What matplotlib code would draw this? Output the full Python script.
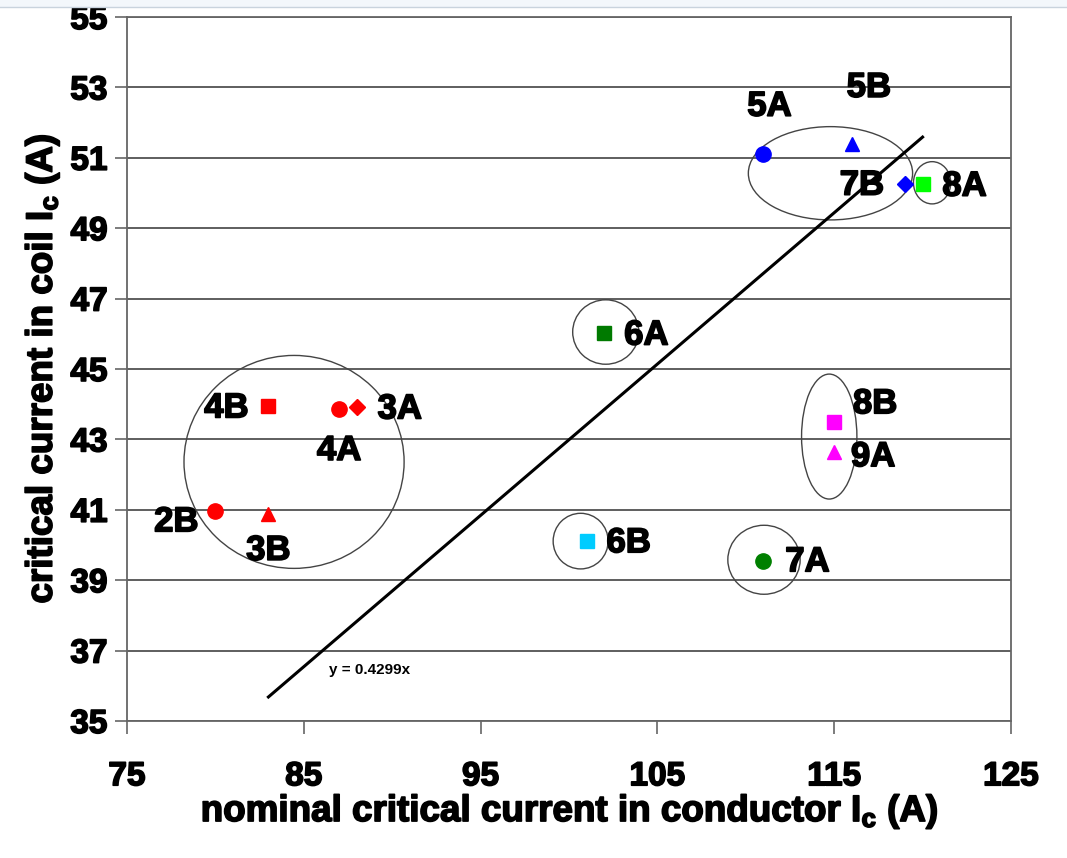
import matplotlib
matplotlib.use("Agg")
import matplotlib.pyplot as plt
import matplotlib.patheffects as pe
from matplotlib.patches import Ellipse, Rectangle
from matplotlib.lines import Line2D

plt.rcParams['font.family'] = ['Liberation Sans', 'DejaVu Sans']
plt.rcParams['font.weight'] = 'bold'
plt.rcParams['mathtext.fontset'] = 'custom'
plt.rcParams['mathtext.rm'] = 'Liberation Sans:bold'
plt.rcParams['mathtext.default'] = 'rm'

# samples: nominal Ic of conductor vs Ic measured in coil
names = ['2B', '3B', '4B', '4A', '3A', '5A', '5B', '7B', '8A', '6A', '8B', '9A', '6B', '7A']
nominal_ic = [80, 83, 83, 87, 88, 111, 116, 119, 120, 102, 115, 115, 101, 111]
coil_ic = [40.97, 40.87, 43.95, 43.85, 43.92, 51.1, 51.38, 50.25, 50.25, 46.02, 43.5, 42.65, 40.12, 39.55]
markers = ['o', '^', 's', 'o', 'D', 'o', '^', 'D', 's', 's', 's', '^', 's', 'o']
colors = ['#ff0000', '#ff0000', '#ff0000', '#ff0000', '#ff0000', '#0000ff', '#0000ff', '#0000ff',
          '#00ff00', '#007a00', '#ff00ff', '#ff00ff', '#00ccff', '#008000']

# linear fit through origin
slope = 0.4299
fit_x = [83, 120]

# groupings drawn as ellipses: (center x, center y, width, height)
groups_cx = [84.45, 114.79, 120.54, 102.08, 114.72, 100.66, 111.03]
groups_cy = [42.36, 50.56, 50.29, 46.05, 43.08, 40.11, 39.58]
groups_w = [12.45, 9.29, 2.11, 3.74, 3.13, 3.11, 4.09]
groups_h = [6.05, 2.65, 1.2, 1.83, 3.55, 1.58, 1.96]

# label offsets (pixels) from each marker
label_off = {'2B': (-39, -11), '3B': (0, -36), '4B': (-42, -2), '4A': (0, -41), '3A': (43, -2),
             '5A': (6, 48), '5B': (17, 57), '7B': (-43, -1), '8A': (42, -2), '6A': (42, -2),
             '8B': (41, 18), '9A': (39, -5), '6B': (42, -2), '7A': (44, -1)}
msize = {'o': 11, 's': 10.5, '^': 10, 'D': 8}

heavy = [pe.withStroke(linewidth=1.2, foreground='black')]

fig = plt.figure(figsize=(10.67, 8.58), dpi=100)
ax = fig.add_axes([0.119, 0.1597, 0.8285, 0.8205])

ax.set_xlim(75, 125)
ax.set_ylim(35, 55)
ax.set_xticks(range(75, 126, 10))
ax.set_yticks(range(35, 56, 2))
ax.yaxis.grid(True, color='#333333', linewidth=1.1)
ax.set_axisbelow(True)
for s in ax.spines.values():
    s.set_color('#666666')
    s.set_linewidth(1.3)
ax.tick_params(axis='both', direction='out', length=9, width=1.2, color='#666666', labelsize=24)
ax.tick_params(axis='x', pad=20)
ax.tick_params(axis='y', pad=5)
for lab in ax.get_xticklabels() + ax.get_yticklabels():
    lab.set_path_effects(heavy)

for cx, cy, w, h in zip(groups_cx, groups_cy, groups_w, groups_h):
    ax.add_patch(Ellipse((cx, cy), w, h, fill=False, edgecolor='#444444', linewidth=1.0, zorder=2))

ax.plot(fit_x, [slope * v for v in fit_x], color='black', linewidth=2.2, zorder=3)
ax.text(86.4, 36.45, 'y = 0.4299x', fontsize=11, fontweight='bold', va='center', ha='left')

for n, x, y, m, c in zip(names, nominal_ic, coil_ic, markers, colors):
    ax.plot(x, y, marker=m, color=c, markersize=msize[m], linestyle='none', zorder=4)
    dx, dy = label_off[n]
    ax.annotate(n, (x, y), xytext=(dx, dy), textcoords='offset pixels',
                ha='center', va='center', fontsize=25, fontweight='bold', zorder=5,
                path_effects=heavy)

xl = ax.set_xlabel('nominal critical current in conductor I$_\\mathrm{c}$ (A)', fontsize=26.5,
                   fontweight='bold', labelpad=0)
yl = ax.set_ylabel('critical current in coil I$_\\mathrm{c}$ (A)', fontsize=26.5,
                   fontweight='bold', labelpad=6)
xl.set_path_effects(heavy)
yl.set_path_effects(heavy)

# strip of the window at the very top of the screenshot
fig.add_artist(Rectangle((0, 1 - 7 / 858), 1, 7 / 858, transform=fig.transFigure,
                         facecolor='#f3f7fb', edgecolor='none', zorder=10))
fig.add_artist(Line2D([0, 1], [1 - 7 / 858, 1 - 7 / 858], transform=fig.transFigure,
                      color='#c9d3dd', linewidth=1, zorder=11))

fig.savefig('out.png', dpi=100)
